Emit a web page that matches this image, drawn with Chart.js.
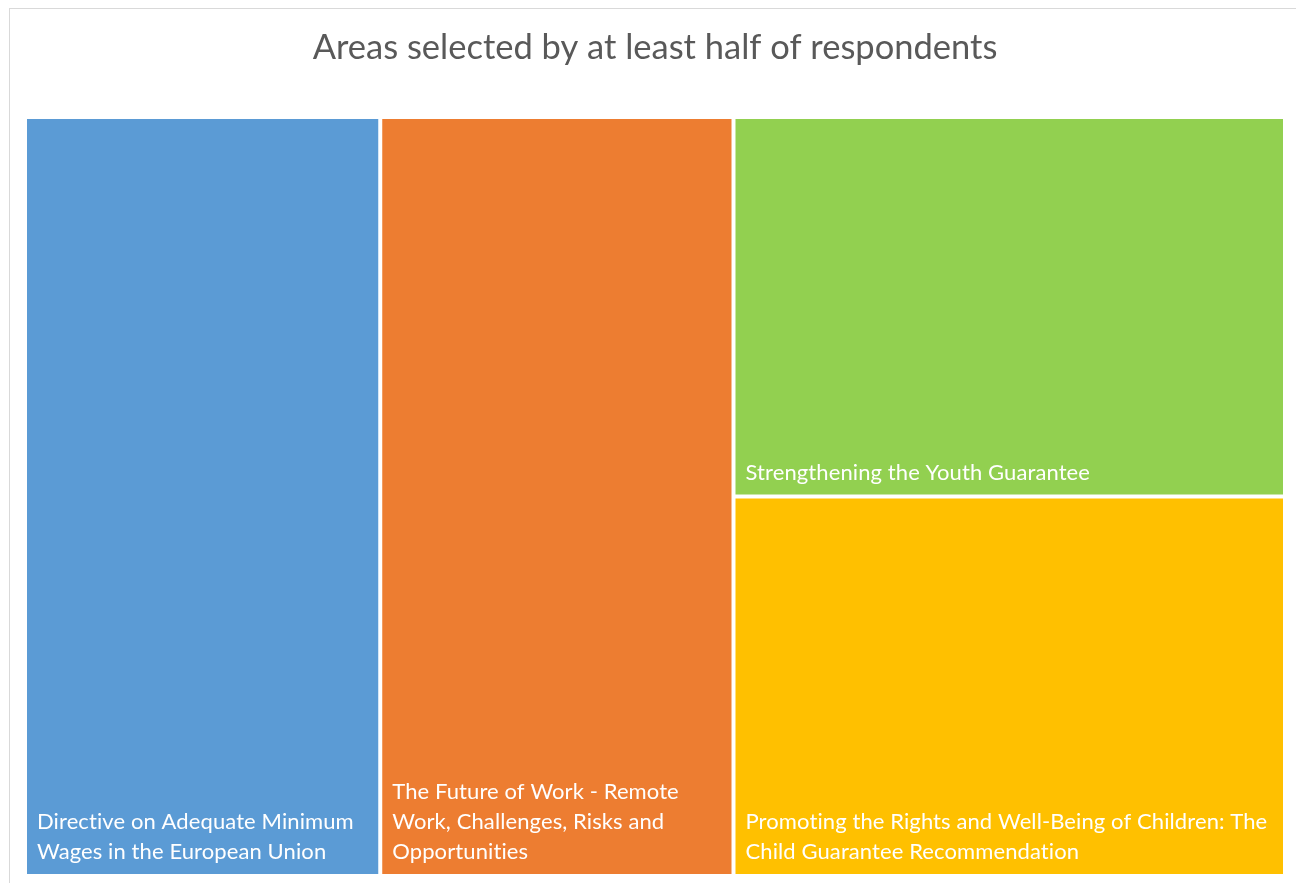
<!DOCTYPE html>
<html>
<head>
<meta charset="utf-8">
<script src="https://cdn.jsdelivr.net/npm/chart.js@4/dist/chart.umd.min.js"></script>
<style>
  html, body { margin: 0; padding: 0; background: #fff; }
  #wrap { width: 1296px; height: 883px; }
</style>
</head>
<body>
<div id="wrap"><canvas id="treemap"></canvas></div>
<script>
// data
const areas = [
    ['Directive on Adequate Minimum', 'Wages in the European Union'],
    ['The Future of Work - Remote', 'Work, Challenges, Risks and', 'Opportunities'],
    ['Strengthening the Youth Guarantee'],
    ['Promoting the Rights and Well-Being of Children: The', 'Child Guarantee Recommendation']
];
const respondents = [9, 9, 7, 7];
const colors = ['#5B9BD5', '#ED7D31', '#92D050', '#FFC000'];
// which tiles share a column (left to right), tiles stacked top to bottom
const columns = [[0], [1], [2, 3]];

const total = respondents.reduce((a, b) => a + b, 0);

// compute tiles in value space: x in [0,total], y in [0,1]
function layoutTiles() {
    const tiles = [];
    let x = 0;
    columns.forEach(col => {
        const colSum = col.reduce((s, i) => s + respondents[i], 0);
        let y = 1;
        col.forEach(i => {
            const h = respondents[i] / colSum;
            tiles.push({ index: i, x0: x, x1: x + colSum, y0: y - h, y1: y });
            y -= h;
        });
        x += colSum;
    });
    return tiles;
}

const frame = {
    id: 'frame',
    beforeDraw(chart) {
        const ctx = chart.ctx;
        ctx.save();
        ctx.fillStyle = '#ffffff';
        ctx.fillRect(0, 0, chart.width, chart.height);
        ctx.strokeStyle = '#D9D9D9';
        ctx.lineWidth = 1;
        ctx.strokeRect(9.5, 8.5, chart.width + 20, chart.height + 20);
        ctx.restore();
    }
};

const treemap = {
    id: 'treemap',
    afterDatasetsDraw(chart) {
        const ctx = chart.ctx;
        const xs = chart.scales.x, ys = chart.scales.y;
        const gap = 2;
        ctx.save();
        layoutTiles().forEach(t => {
            let l = xs.getPixelForValue(t.x0), r = xs.getPixelForValue(t.x1);
            let top = ys.getPixelForValue(t.y1), bot = ys.getPixelForValue(t.y0);
            if (t.x0 > 0) l += gap;
            if (t.x1 < total) r -= gap;
            if (t.y1 < 1) top += gap;
            if (t.y0 > 0) bot -= gap;
            ctx.fillStyle = colors[t.index];
            ctx.fillRect(l, top, r - l, bot - top);

            const lines = areas[t.index];
            ctx.fillStyle = '#ffffff';
            ctx.font = '22px Lato';
            ctx.letterSpacing = '0.1px';
            ctx.textAlign = 'left';
            ctx.textBaseline = 'alphabetic';
            lines.forEach((line, k) => {
                ctx.fillText(line, l + 10, bot - 15 - (lines.length - 1 - k) * 30);
            });
        });
        ctx.restore();
    }
};

new Chart(document.getElementById('treemap'), {
    type: 'scatter',
    data: { datasets: [{ data: [] }] },
    options: {
        responsive: true,
        maintainAspectRatio: false,
        animation: false,
        layout: { padding: { left: 27, right: 13, top: 0, bottom: 9 } },
        scales: {
            x: { type: 'linear', min: 0, max: total, display: false },
            y: { type: 'linear', min: 0, max: 1, display: false }
        },
        plugins: {
            legend: { display: false },
            tooltip: { enabled: false },
            title: {
                display: true,
                text: 'Areas selected by at least half of respondents',
                color: '#595959',
                font: { family: 'Lato', size: 34.5, weight: 'normal' },
                padding: { top: 26.7, bottom: 50.9 }
            }
        }
    },
    plugins: [frame, treemap]
});
</script>
</body>
</html>
